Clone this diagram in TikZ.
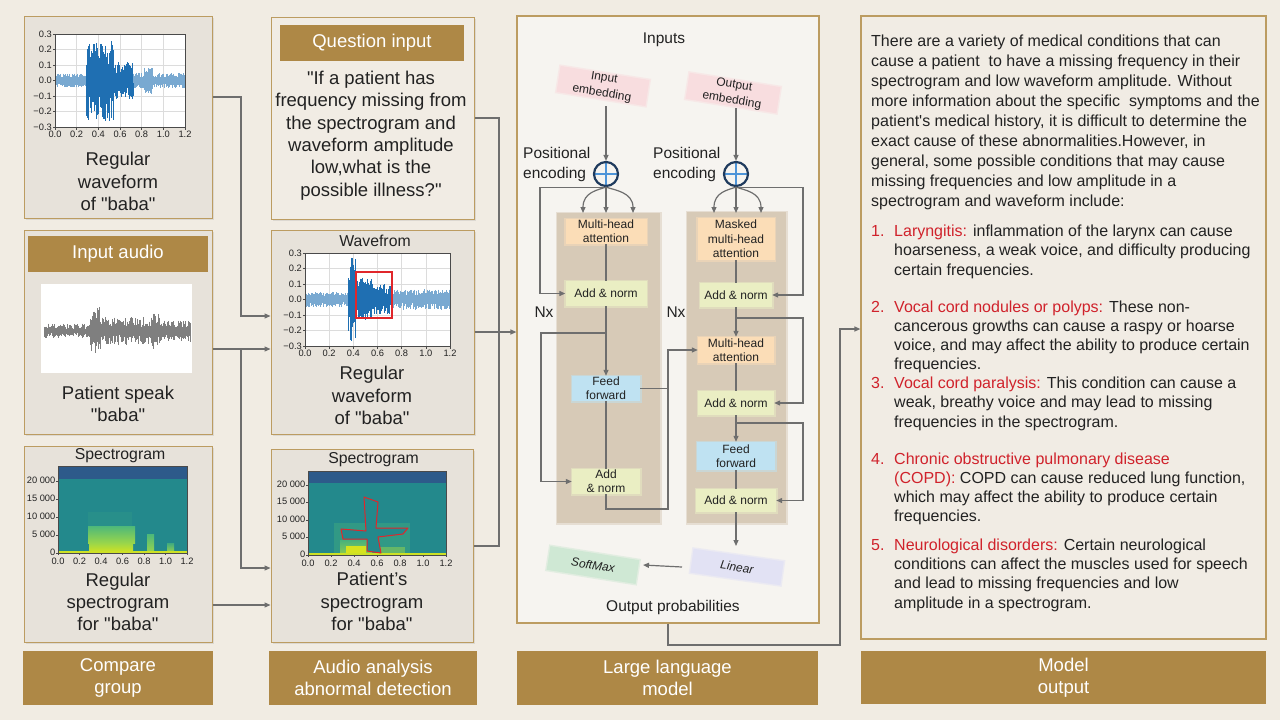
\documentclass[tikz,border=0pt]{standalone}
\usepackage{fontspec}
\setmainfont{Liberation Sans}[Ligatures=TeXOff]
\usetikzlibrary{arrows.meta,shadows}

\definecolor{bgc}{HTML}{F1ECE3}
\definecolor{panelc}{HTML}{E7E2DA}
\definecolor{lightp}{HTML}{F1ECE4}
\definecolor{goldb}{HTML}{BC9C61}
\definecolor{hdrc}{HTML}{AE8846}
\definecolor{linec}{HTML}{6E6E6E}
\definecolor{llmc}{HTML}{F6F4F0}
\definecolor{tanc}{HTML}{D7CAB7}
\definecolor{orc}{HTML}{FBDDB7}
\definecolor{grc}{HTML}{EAEEC3}
\definecolor{blc}{HTML}{BFE2F2}
\definecolor{pkc}{HTML}{F8DDDF}
\definecolor{lvc}{HTML}{E2E2F4}
\definecolor{smc}{HTML}{CFE8D4}
\definecolor{redt}{HTML}{D0222B}
\definecolor{navy}{HTML}{1F3B5E}
\definecolor{crossb}{HTML}{4D94D8}
\definecolor{wblue}{HTML}{1F6FB2}
\definecolor{wgray}{HTML}{2A2A2A}
\definecolor{gridc}{HTML}{DCDCDC}
\definecolor{axc}{HTML}{4A4A4A}
\definecolor{specbg}{HTML}{23898C}
\definecolor{spectop}{HTML}{2D5A8A}
\definecolor{specg1}{HTML}{4DB87A}
\definecolor{specg2}{HTML}{9AD64A}
\definecolor{specy}{HTML}{D6E31E}
\definecolor{redbox}{HTML}{E0262B}
\definecolor{txt}{HTML}{222222}

\newcommand\fBig{\fontsize{18.5}{22.4}\selectfont}
\newcommand\fTitle{\fontsize{15.8}{18}\selectfont}
\newcommand\fTick{\fontsize{9.3}{11}\selectfont}
\newcommand\fBlk{\fontsize{12}{14.3}\selectfont}
\newcommand\fEmb{\fontsize{12}{15.5}\selectfont}
\newcommand\fTr{\fontsize{15.5}{20}\selectfont}
\newcommand\fOut{\fontsize{16}{20}\selectfont}
\newcommand\fItem{\fontsize{16}{19.3}\selectfont}

% light grid and white plot area of a waveform plot: x0, y0, width, height
\newcommand\waveaxes[4]{%
  \fill[white] (#1,#2) rectangle ({#1+#3},{#2+#4});
  \foreach \k in {1,...,5} {
    \draw[gridc, line width=0.6pt] ({#1+\k*#3/6},#2) -- ({#1+\k*#3/6},{#2+#4});
    \draw[gridc, line width=0.6pt] (#1,{#2+\k*#4/6}) -- ({#1+#3},{#2+\k*#4/6});
  }}

% frame, ticks and labels of a waveform plot: prefix, x0, y0, width, height
\newcommand\waveframe[5]{%
  \draw[axc, line width=0.6pt] (#2,#3) rectangle ({#2+#4},{#3+#5});
  \foreach \k/\lab in {0/0.3,1/0.2,2/0.1,3/0.0,4/−0.1,5/−0.2,6/−0.3} {
    \draw[axc, line width=0.5pt] (#2,{#3+\k*#5/6}) -- ({#2-2.5},{#3+\k*#5/6});
    \node[tick, anchor=east] (#1y\k) at ({#2-3},{#3+\k*#5/6}) {\lab};
  }
  \foreach \k/\lab in {0/0.0,1/0.2,2/0.4,3/0.6,4/0.8,5/1.0,6/1.2} {
    \draw[axc, line width=0.5pt] ({#2+\k*#4/6},{#3+#5}) -- ({#2+\k*#4/6},{#3+#5+2.5});
    \node[tick, anchor=north] (#1x\k) at ({#2+\k*#4/6},{#3+#5+4}) {\lab};
  }}

% frame, ticks and labels of a spectrogram: prefix, x0, y of 0 Hz, width, px per kHz
\newcommand\specframe[5]{%
  \draw[axc, line width=0.5pt] (#2,{#3-24*#5}) rectangle ({#2+#4},#3);
  \foreach \k/\lab in {0/0,5/5 000,10/10 000,15/15 000,20/20 000} {
    \draw[axc, line width=0.5pt] (#2,{#3-\k*#5}) -- ({#2-2},{#3-\k*#5});
    \node[tick, anchor=east] (#1y\k) at ({#2-2.5},{#3-\k*#5-1}) {\lab};
  }
  \foreach \k/\lab in {0/0.0,1/0.2,2/0.4,3/0.6,4/0.8,5/1.0,6/1.2} {
    \draw[axc, line width=0.5pt] ({#2+\k*#4/6},#3) -- ({#2+\k*#4/6},{#3+2});
    \node[tick, anchor=north] (#1x\k) at ({#2+\k*#4/6},{#3+4.5}) {\lab};
  }}

% audio samples as vertical bars: x0, width, y centre, px per unit, envelope(\wT), count, colour, loud level
\newcommand\wavebars[8]{%
  \foreach \wI in {0,...,#6} {
    \pgfmathsetmacro\wT{\wI*1.2/#6}
    \pgfmathsetmacro\wE{#5}
    \pgfmathsetmacro\wU{\wE*(0.3+0.7*rnd)}
    \pgfmathsetmacro\wD{\wE*(0.3+0.7*rnd)}
    \pgfmathtruncatemacro\wC{\wE>#8 ? 100 : 60}
    \draw[line width=0.45pt, draw=#7!\wC!white] ({#1+\wT*#2/1.2},{#3-\wU*#4}) -- ({#1+\wT*#2/1.2},{#3+\wD*#4});
  }}

\begin{document}
\begin{tikzpicture}[x=1pt,y=-1pt,
  panel/.style={draw=goldb, line width=1pt, fill=panelc, inner sep=0,
    drop shadow={shadow xshift=1.5pt, shadow yshift=-2pt, opacity=0.18}},
  hdr/.style={fill=hdrc, text=white, font=\fBig, align=center, inner sep=0},
  big/.style={font=\fBig, align=center, inner sep=0, text=txt},
  ttl/.style={font=\fTitle, inner sep=0, text=txt},
  tick/.style={font=\fTick, inner sep=0, text=txt},
  trtext/.style={font=\fTr, inner sep=0, text=txt},
  ln/.style={draw=linec, line width=1.2pt},
  arr/.style={ln, -{Triangle[length=6pt,width=5pt]}},
  soft/.style={fill=#1, preaction={draw=#1, draw opacity=0.5, line width=3pt}},
  blk/.style={inner sep=0, font=\fBlk, align=center, text=txt},
  plus/.style={circle, minimum size=24pt, inner sep=0, draw=navy, line width=2.2pt,
    path picture={\draw[crossb, line width=2pt]
      (path picture bounding box.north) -- (path picture bounding box.south)
      (path picture bounding box.west) -- (path picture bounding box.east);}},
  outtxt/.style={anchor=north west, inner sep=0, font=\fItem, align=left, text=txt},
  num/.style={anchor=base west, inner sep=0, font=\fItem, text=redt}]

\useasboundingbox (0,0) rectangle (1280,720);
\fill[bgc] (0,0) rectangle (1280,720);

% ================= column 1: compare group =================
\node[panel, minimum width=188pt, minimum height=202pt] (pA) at (118,117) {};
\node[panel, minimum width=188pt, minimum height=204pt] (pB) at (118,332) {};
\node[panel, minimum width=188pt, minimum height=196pt] (pC) at (118,544) {};
\node[hdr, minimum width=190pt, minimum height=54pt] (hC) at (118,678) {Compare\\group};

% regular waveform
\waveaxes{55}{34}{130}{93}
\pgfmathsetseed{4}
\wavebars{55}{130}{80.5}{155}{\wT<0.29 ? 0.045 : (\wT<0.54 ? 0.26 : (\wT<0.72 ? 0.12 : (\wT<0.82 ? 0.05 : (\wT<0.9 ? 0.085 : 0.05))))}{259}{wblue}{0.09}
\waveframe{a}{55}{34}{130}{93}
\node[big] (tA) at (118,181.5) {Regular\\waveform\\of "baba"};

% input audio
\node[hdr, minimum width=180pt, minimum height=36pt] (hB) at (118,254) {Input audio};
\node[fill=white, inner sep=0, minimum width=151pt, minimum height=89pt] (wimg) at (116.5,328.5) {};
\pgfmathsetseed{9}
\wavebars{44}{146}{331}{100}{\wT<0.38 ? 0.075 : (\wT<0.46 ? 0.25 : (\wT<0.87 ? 0.14 : (\wT<0.95 ? 0.18 : 0.11)))}{170}{wgray}{1}
\node[big] (tB) at (118,404) {Patient speak\\"baba"};

% regular spectrogram
\node[ttl] (sC) at (120,456) {Spectrogram};
\fill[specbg] (58,466.6) rectangle (187,553);
\fill[spectop] (58,466.6) rectangle (187,479.2);
\fill[specbg!88!specg1] (88,512) rectangle (132,526);
\shade[top color=specg1, bottom color=specg2] (88,526) rectangle (135,543);
\shade[top color=specg2, bottom color=specy] (89,543) rectangle (133,553);
\shade[top color=specg1, bottom color=specg2] (147,534) rectangle (154,553);
\shade[top color=specg1!70!specbg, bottom color=specg2] (167,543) rectangle (174,553);
\fill[specy!85!specg2] (58,550.5) rectangle (187,553);
\specframe{c}{58}{553}{129}{3.6}
\node[big] (tC) at (118,601.8) {Regular\\spectrogram\\for "baba"};

% ================= column 2: audio analysis =================
\node[panel, fill=lightp, minimum width=203pt, minimum height=202pt] (pD) at (372.5,118) {};
\node[panel, minimum width=203pt, minimum height=204pt] (pE) at (372.5,332) {};
\node[panel, minimum width=202pt, minimum height=193pt] (pF) at (372,545.5) {};
\node[hdr, minimum width=208pt, minimum height=54pt] (hF) at (373,678) {Audio analysis\\abnormal detection};

\node[hdr, minimum width=184pt, minimum height=36pt] (hD) at (372,43) {Question input};
\node[big] (tD) at (371,135.6) {"If a patient has\\frequency missing from\\the spectrogram and\\waveform amplitude\\low,what is the\\possible illness?"};

% patient waveform
\node[ttl] (sE) at (375,241) {Wavefrom};
\waveaxes{305}{253}{145}{93}
\pgfmathsetseed{21}
\wavebars{305}{145}{299.5}{155}{\wT<0.36 ? 0.05 : (\wT<0.42 ? 0.27 : (\wT<0.55 ? 0.14 : (\wT<0.72 ? 0.1 : 0.065)))}{289}{wblue}{0.09}
\draw[redbox, line width=1.3pt] (356,272) rectangle (392,318);
\waveframe{e}{305}{253}{145}{93}
\node[big] (tE) at (372,395.7) {Regular\\waveform\\of "baba"};

% patient spectrogram
\node[ttl] (sF) at (373.5,460) {Spectrogram};
\fill[specbg] (308,471) rectangle (446,555);
\fill[spectop] (308,471) rectangle (446,483.3);
\fill[specg1, opacity=0.35] (334,523) rectangle (410,553);
\shade[top color=specg1, bottom color=specg2, opacity=0.8] (340,540) rectangle (372,553);
\fill[specy] (346,546) rectangle (366,553);
\fill[specg2, opacity=0.5] (378,547) rectangle (405,553);
\fill[specy!85!specg2] (308,552.5) rectangle (446,555);
\filldraw[fill=specbg, draw=redbox, line width=1pt, line join=round]
  (364,497) -- (378,502) -- (376,528) -- (408,528) -- (403,534) -- (378,537) -- (381,553)
  -- (367,551) -- (367,539) -- (343,539) -- (341,529) -- (366,531) -- cycle;
\specframe{f}{308}{555}{138}{3.5}
\node[big] (tF) at (372,601.7) {Patient’s\\spectrogram\\for "baba"};

% connectors between columns 1 and 2
\draw[arr] (pA.east |- 0,97) -| (241,316) -- (pE.west |- 0,316);
\draw[arr] (pB.east |- 0,349) -- (pE.west |- 0,349);
\coordinate (jB) at (241,349);
\draw[arr] (jB) |- (pF.west |- 0,568);
\draw[arr] (pC.east |- 0,605) -- (pF.west |- 0,605);

% ================= column 3: large language model =================
\node[draw=goldb, line width=1.2pt, fill=llmc, inner sep=0, minimum width=302pt, minimum height=607pt] (llm) at (668,319.5) {};
\node[hdr, minimum width=301pt, minimum height=54pt] (hL) at (667.5,678) {Large language\\model};

\draw[ln] (pD.east |- 0,118) -| (499,546) -- (pF.east |- 0,546);
\draw[arr] (pE.east |- 0,332) -- (llm.west |- 0,332);

\node[trtext] (inputs) at (664,40) {Inputs};
\node[blk, font=\fEmb, soft=pkc, rotate=-9, minimum width=90pt, minimum height=25pt] (ie) at (603,86) {Input\\embedding};
\node[blk, font=\fEmb, soft=pkc, rotate=-9, minimum width=92pt, minimum height=26pt] (oe) at (733,93) {Output\\embedding};

\node[plus] (pe1) at (606,174) {};
\node[plus] (pe2) at (736,174) {};
\node[trtext, anchor=west, align=left] (pl1) at (523,164) {Positional\\encoding};
\node[trtext, anchor=west, align=left] (pl2) at (653,164) {Positional\\encoding};
\draw[arr] (pe1.north |- 0,106) -- (pe1.north);
\draw[arr] (pe2.north |- 0,108) -- (pe2.north);

% encoder stack
\node[soft=tanc, inner sep=0, minimum width=103pt, minimum height=310pt] (encB) at (608.5,368) {};
\node[blk, soft=orc, minimum width=81pt, minimum height=25pt] (mha1) at (606,231.5) {Multi-head\\attention};
\node[blk, soft=grc, minimum width=81pt, minimum height=25pt] (an1) at (606,293.5) {Add \& norm};
\node[blk, soft=blc, minimum width=68pt, minimum height=25pt] (ff1) at (606,388.5) {Feed\\forward};
\node[blk, soft=grc, minimum width=68pt, minimum height=25pt] (an2) at (606,481.5) {Add\\\& norm};
\node[trtext] (nx1) at (544,312) {Nx};

% decoder stack
\node[soft=tanc, inner sep=0, minimum width=99pt, minimum height=311pt] (decB) at (736.5,367.5) {};
\node[blk, soft=orc, minimum width=77pt, minimum height=42pt] (mmha) at (736,239) {Masked\\multi-head\\attention};
\node[blk, soft=grc, minimum width=72pt, minimum height=24pt] (an3) at (736,295) {Add \& norm};
\node[blk, soft=orc, minimum width=76pt, minimum height=26pt] (mha2) at (736,350) {Multi-head\\attention};
\node[blk, soft=grc, minimum width=76pt, minimum height=24pt] (an4) at (736,403) {Add \& norm};
\node[blk, soft=blc, minimum width=78pt, minimum height=28pt] (ff2) at (736,456) {Feed\\forward};
\node[blk, soft=grc, minimum width=80pt, minimum height=23pt] (an5) at (736,500.5) {Add \& norm};
\node[trtext] (nx2) at (676,312) {Nx};

% attention inputs fanning out of the positional sums
\draw[arr] (pe1.south) .. controls (598,190) and (583,192) .. (583,213);
\draw[arr] (pe1.south) -- (pe1.south |- 0,213);
\draw[arr] (pe1.south) .. controls (614,190) and (633,192) .. (633,213);
\draw[arr] (pe2.south) .. controls (728,190) and (714,192) .. (714,213);
\draw[arr] (pe2.south) -- (pe2.south |- 0,213);
\draw[arr] (pe2.south) .. controls (744,190) and (761,192) .. (761,213);

% encoder wiring
\draw[arr] (pe1.south) -| (540,293.5) -- (an1.west);
\draw[ln] (mha1.south) -- (an1.north);
\draw[arr] (an1.south) -- (ff1.north);
\draw[arr] (an1.south |- 0,333) -| (541,481.5) -- (an2.west);
\draw[ln] (ff1.south) -- (an2.north);
\draw[arr] (an2.south) |- (668,509) |- (mha2.west);
\draw[ln] (ff1.east) -- (ff1.east -| 668,0);

% decoder wiring
\draw[arr] (pe2.south) -| (803,295) -- (an3.east);
\draw[ln] (mmha.south) -- (an3.north);
\draw[arr] (an3.south) -- (mha2.north);
\draw[arr] (an3.south |- 0,318) -| (803,403) -- (an4.east);
\draw[ln] (mha2.south) -- (an4.north);
\draw[arr] (an4.south) -- (ff2.north);
\draw[arr] (an4.south |- 0,423) -| (803,500.5) -- (an5.east);
\draw[ln] (ff2.south) -- (an5.north);

% output head
\node[blk, soft=lvc, rotate=-8, minimum width=91pt, minimum height=24pt, font=\fBlk\itshape] (lin) at (737,567) {Linear};
\node[blk, soft=smc, rotate=-9, minimum width=90pt, minimum height=24pt, font=\fBlk\itshape] (sm) at (593,565) {SoftMax};
\draw[arr] (an5.south) -- (an5.south |- 0,546);
\draw[arr] (lin.center -| 682,0) -- (sm.center -| 643,0);
\node[trtext] (oprob) at (673,607) {Output probabilities};

% ================= column 4: model output =================
\node[draw=goldb, line width=1.2pt, fill=lightp, inner sep=0, minimum width=405pt, minimum height=623pt] (mo) at (1063.5,327.5) {};
\node[hdr, minimum width=405pt, minimum height=53pt] (hM) at (1063.5,677.5) {Model\\output};
\draw[arr] (llm.south -| 668,0) |- (840,645) |- (mo.west |- 0,329);

\node[outtxt, font=\fOut] (para) at (871,34.8) {There are a variety of medical conditions that can\\
cause a patient\ \ to have a missing frequency in their\\
spectrogram and low waveform amplitude. Without\\
more information about the specific\ \ symptoms and the\\
patient's medical history, it is difficult to determine the\\
exact cause of these abnormalities.However, in\\
general, some possible conditions that may cause\\
missing frequencies and low amplitude in a\\
spectrogram and waveform include:};

\node[num] (n1) at (871,236.5) {1.};
\node[outtxt] (i1) at (894,224.8) {\textcolor{redt}{Laryngitis:} inflammation of the larynx can cause\\
hoarseness, a weak voice, and difficulty producing\\
certain frequencies.};
\node[num] (n2) at (871,312) {2.};
\node[outtxt] (i2) at (894,300.3) {\textcolor{redt}{Vocal cord nodules or polyps:} These non-\\
cancerous growths can cause a raspy or hoarse\\
voice, and may affect the ability to produce certain\\
frequencies.};
\node[num] (n3) at (871,388.5) {3.};
\node[outtxt] (i3) at (894,376.8) {\textcolor{redt}{Vocal cord paralysis:} This condition can cause a\\
weak, breathy voice and may lead to missing\\
frequencies in the spectrogram.};
\node[num] (n4) at (871,464) {4.};
\node[outtxt] (i4) at (894,452.3) {\textcolor{redt}{Chronic obstructive pulmonary disease}\\
\textcolor{redt}{(COPD):} COPD can cause reduced lung function,\\
which may affect the ability to produce certain\\
frequencies.};
\node[num] (n5) at (871,550) {5.};
\node[outtxt] (i5) at (894,538.3) {\textcolor{redt}{Neurological disorders:} Certain neurological\\
conditions can affect the muscles used for speech\\
and lead to missing frequencies and low\\
amplitude in a spectrogram.};

\end{tikzpicture}
\end{document}
